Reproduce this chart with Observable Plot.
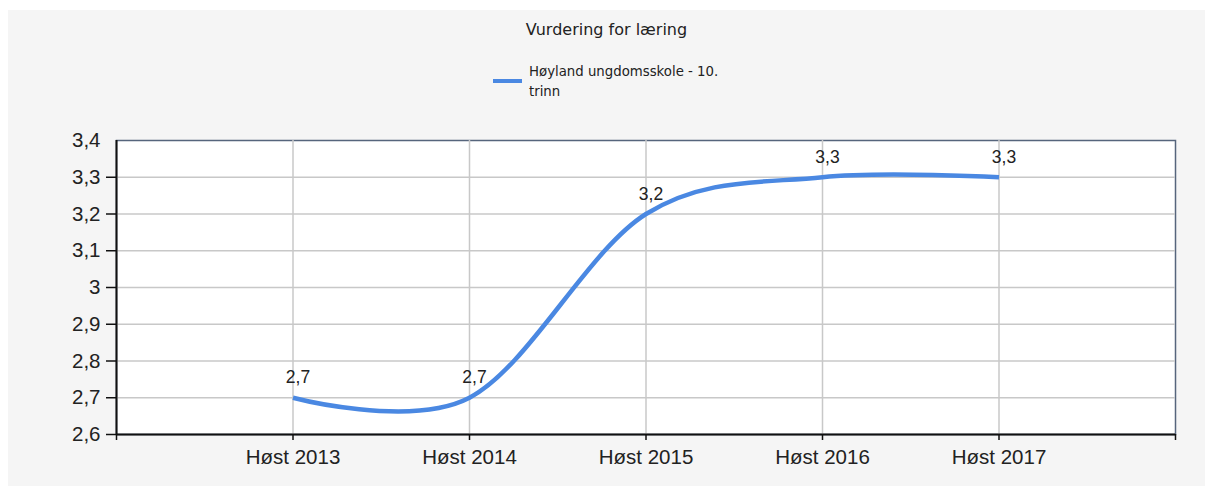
<!DOCTYPE html>
<html>
<head>
<meta charset="utf-8">
<script src="https://cdn.jsdelivr.net/npm/d3@7"></script>
<script src="https://cdn.jsdelivr.net/npm/@observablehq/plot@0.6"></script>
<style>
  html, body { margin: 0; padding: 0; background: #ffffff; }
  #wrap { position: absolute; left: 8px; top: 10px; width: 1197px; height: 476px; background: #f5f5f5; overflow: hidden; }
  #header { position: relative; width: 1197px; height: 110px; }
  #title { position: absolute; left: 0; width: 1197px; top: 10px; line-height: 20px; text-align: center; font-family: "DejaVu Sans", sans-serif; font-size: 16px; color: #222; }
  #swatch { position: absolute; left: 485px; top: 69px; width: 29px; height: 4px; }
  #legtext { position: absolute; left: 521px; top: 52px; width: 200px; line-height: 20px; font-family: "DejaVu Sans", sans-serif; font-size: 13.3px; color: #222; }
  #chart svg { display: block; }
</style>
</head>
<body>
<div id="wrap">
  <div id="header">
    <div id="title"></div>
    <div id="swatch"></div>
    <div id="legtext"></div>
  </div>
  <div id="chart"></div>
</div>
<script>
const title = "Vurdering for læring";
const seriesName = "Høyland ungdomsskole - 10. trinn";
const categories = ["Høst 2013", "Høst 2014", "Høst 2015", "Høst 2016", "Høst 2017"];
const values = [2.7, 2.7, 3.2, 3.3, 3.3];
const yTicks = [2.6, 2.7, 2.8, 2.9, 3.0, 3.1, 3.2, 3.3, 3.4];
const yTickMarks = [2.6, 2.7, 2.8, 2.9, 3.0, 3.1, 3.2, 3.3];
const yGrid = [2.7, 2.8, 2.9, 3.0, 3.1, 3.2, 3.3];
const xPositions = [0, 1, 2, 3, 4, 5, 6];
const lineColor = "#4a88e2";

document.getElementById("title").textContent = title;
document.getElementById("legtext").textContent = seriesName;
document.getElementById("swatch").style.background = lineColor;

const data = categories.map((c, i) => ({pos: i + 1, cat: c, value: values[i]}));
const fmt = d => String(+d.toFixed(1)).replace(".", ",");

const chart = Plot.plot({
  width: 1197,
  height: 366,
  marginLeft: 108,
  marginRight: 30,
  marginTop: 20,
  marginBottom: 52,
  style: {background: "transparent", fontFamily: "Liberation Sans, Arial, sans-serif", color: "#222"},
  x: {type: "linear", domain: [0, 6], label: null},
  y: {domain: [2.6, 3.4], label: null},
  marks: [
    Plot.frame({fill: "white", stroke: "#56657c", strokeWidth: 1.5}),
    Plot.gridY(yGrid, {stroke: "#c8c8c8", strokeOpacity: 1, strokeWidth: 1.5}),
    Plot.gridX([1, 2, 3, 4, 5], {stroke: "#c8c8c8", strokeOpacity: 1, strokeWidth: 1.5}),
    Plot.ruleX([0], {stroke: "#111", strokeWidth: 2}),
    Plot.ruleY([2.6], {stroke: "#111", strokeWidth: 2}),
    Plot.axisY(yTicks, {tickSize: 0, tickPadding: 16, tickFormat: fmt, fontSize: 20.5, fill: "#222", label: null}),
    Plot.axisY(yTickMarks, {tickSize: 10, text: null, stroke: "#111", strokeWidth: 1.5, label: null}),
    Plot.axisX(xPositions, {tickSize: 6, tickPadding: 9, stroke: "#111", strokeWidth: 1.5, fontSize: 20.5, fill: "#222", label: null,
      tickFormat: d => (d >= 1 && d <= categories.length) ? categories[d - 1] : ""}),
    Plot.line(data, {x: "pos", y: "value", curve: "cardinal", stroke: lineColor, strokeWidth: 4.5, strokeLinecap: "butt"}),
    Plot.text(data, {x: "pos", y: "value", text: d => fmt(d.value), dy: -20, dx: 5, fontSize: 17.5, fill: "#222"})
  ]
});
document.getElementById("chart").appendChild(chart);
</script>
</body>
</html>
